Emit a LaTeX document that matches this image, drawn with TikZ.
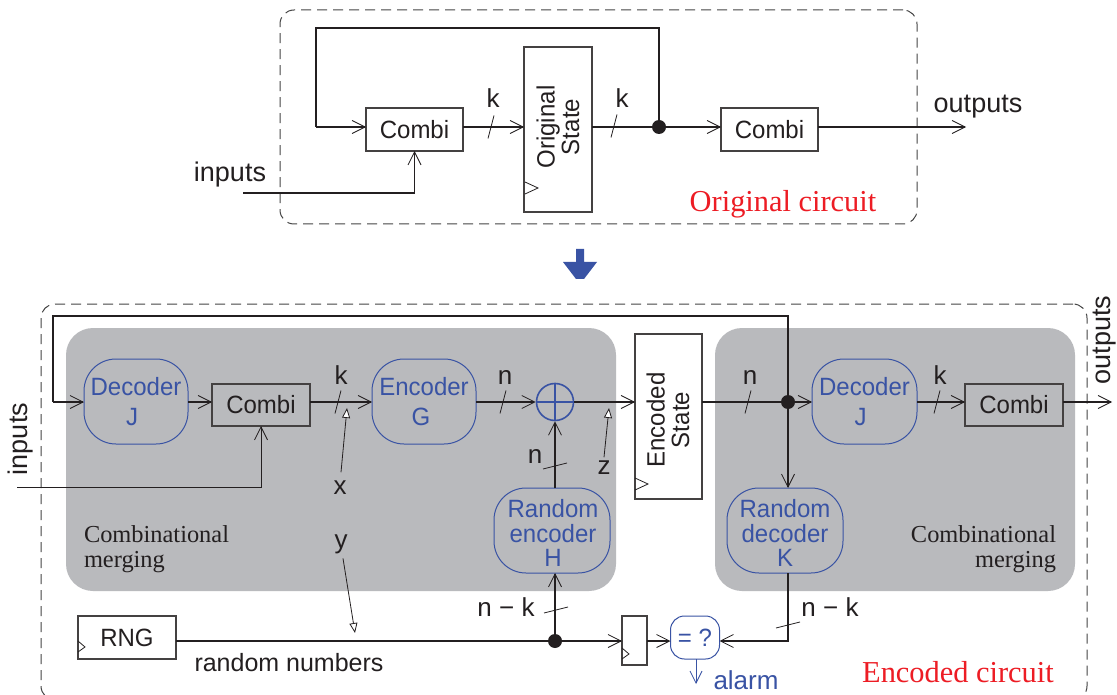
\documentclass[tikz,border=0pt]{standalone}
\usepackage{fontspec}
\setmainfont{Liberation Serif}
\setsansfont{Liberation Sans}
\newfontfamily\boxfont[FakeStretch=0.96]{Liberation Sans}
\usetikzlibrary{arrows.meta,positioning}
\definecolor{ink}{HTML}{231F20}
\definecolor{codeblue}{HTML}{3953A4}
\definecolor{panelgray}{HTML}{B9BABD}
\definecolor{framegray}{HTML}{444444}
\definecolor{titlered}{HTML}{ED1C24}
\tikzstyle{base} = [inner sep=0pt, outer sep=0pt, text=ink, font=\boxfont\fontsize{25}{24.5}\selectfont]
\tikzstyle{frame} = [base, rectangle, draw=framegray, line width=1pt, rounded corners=14pt, dash pattern=on 10pt off 6pt]
\tikzstyle{panel} = [base, rectangle, fill=panelgray, rounded corners=27pt]
\tikzstyle{block} = [base, rectangle, draw=ink!85, line width=1.1pt]
\tikzstyle{code} = [base, rectangle, draw=codeblue, line width=1pt, rounded corners=32pt, text=codeblue, align=center]
\tikzstyle{codetext} = [base, text=codeblue, align=center]
\tikzstyle{lbl} = [base, anchor=base, font=\sffamily\fontsize{26}{26}\selectfont]
\tikzstyle{wide} = [font=\sffamily\fontsize{27}{27}\selectfont]
\tikzstyle{title} = [base, anchor=base, text=titlered, font=\rmfamily\fontsize{30.4}{30}\selectfont]
\tikzstyle{merge} = [base, font=\rmfamily\fontsize{24.4}{24.5}\selectfont]
\tikzstyle{dot} = [circle, fill=ink, inner sep=0pt, minimum size=14pt]
\tikzstyle{wire} = [draw=ink, line width=1.8pt, -{Straight Barb[length=13pt,width=13pt,line width=0.8pt]}]
\tikzstyle{line} = [draw=ink, line width=1.8pt]
\tikzstyle{heavy} = [draw=ink, line width=2.2pt]
\tikzstyle{slash} = [draw=ink, line width=0.8pt]
\tikzstyle{note} = [draw=ink, line width=0.8pt, -{Triangle[open,length=10pt,width=8pt,fill=white]}]
\begin{document}
\begin{tikzpicture}[x=1pt,y=-1pt]
\clip (0,0) rectangle (1117,695);
\fill[white] (0,0) rectangle (1117,695);
% grey merging areas go first, everything else sits on top
\node (PanelL) [panel, minimum width=550pt, minimum height=263pt] at (341,459.5) {};
\node (PanelR) [panel, minimum width=360pt, minimum height=263pt] at (895,459.5) {};
\node (FrameTop) [frame, minimum width=637pt, minimum height=214pt] at (598.5,117) {};
\node (FrameBot) [frame, minimum width=1046pt, minimum height=396pt] at (564,502) {};
% original circuit
\node (CombiA) [block, minimum width=97pt, minimum height=43pt] at (414.5,129.5) {Combi};
\node (StateA) [block, minimum width=68pt, minimum height=165pt] at (558,129.5) {};
\node (StateAText) [base, rotate=90, align=center] at (558,127) {Original\\State};
\node (CombiB) [block, minimum width=97pt, minimum height=43pt] at (769.5,129.5) {Combi};
\coordinate (RowA) at (0,127);
\node (DotA) [dot] at (659,127) {};
\coordinate (OutA) at (966,127);
\coordinate (InA) at (243,193);
\draw[heavy] (DotA) -- (659,28) -- (316,28) -- (316,127);
\draw[wire] (316,127) -- (CombiA.west |- RowA);
\draw[wire] (CombiA.east |- RowA) -- (StateA.west |- RowA);
\draw[line] (StateA.east |- RowA) -- (DotA);
\draw[wire] (DotA) -- (CombiB.west |- RowA);
\draw[wire] (CombiB.east |- RowA) -- (OutA);
\draw[wire] (InA) -| (CombiA.south);
\draw[slash] (StateA.south west) ++(1,-30) -- ++(13,6) -- ++(-13,6);
\node (InputsA) [lbl, wide] at (230,182) {inputs};
\node (OutputsA) [lbl, wide] at (978,113) {outputs};
\node (KA) [lbl] at (493,108) {k};
\node (KB) [lbl] at (622,108) {k};
\node (TitleA) [title] at (783,212) {Original circuit};
% arrow between the two circuits
\fill[codeblue] (576,249) -- (584,249) -- (584,262) -- (597,262) -- (584,279) -- (576,279) -- (563,262) -- (576,262) -- cycle;
% encoded circuit
\node (DecL) [code, minimum width=104pt, minimum height=85pt] at (136,401.5) {Decoder\\[5pt]\hspace*{-8pt}J};
\node (CombiC) [block, minimum width=98pt, minimum height=42pt] at (261,405) {Combi};
\node (EncG) [code, minimum width=104pt, minimum height=85pt] at (424,401.5) {Encoder\\[5pt]\hspace*{-6pt}G};
\node (Xor) [circle, draw=codeblue, line width=1.6pt, minimum size=37pt, inner sep=0pt] at (555,402) {};
\node (StateB) [block, minimum width=67pt, minimum height=165pt] at (668.5,416.5) {};
\node (StateBText) [base, rotate=90, align=center] at (668,420) {Encoded\\State};
\node (DecR) [code, minimum width=105pt, minimum height=85pt] at (864.5,401.5) {Decoder\\[5pt]\hspace*{-8pt}J};
\node (CombiD) [block, minimum width=98pt, minimum height=42pt] at (1014,405) {Combi};
\node (RandH) [code, minimum width=116pt, minimum height=85pt] at (552,530.5) {};
\node (RandHText) [codetext] at (553,533) {Random\\encoder\\H};
\node (RandK) [code, minimum width=116pt, minimum height=85pt] at (785,530.5) {};
\node (RandKText) [codetext] at (785,533) {Random\\decoder\\K};
\node (Rng) [block, minimum width=98pt, minimum height=43pt] at (127,637.5) {RNG};
\node (Reg) [block, minimum width=25pt, minimum height=49pt] at (634.5,640.5) {};
\node (Check) [code, minimum width=49pt, minimum height=43pt, rounded corners=14pt] at (695,637.5) {= ?};
\coordinate (RowB) at (0,402);
\coordinate (RowC) at (0,641);
\node (DotB) [dot] at (788,402) {};
\node (DotC) [dot] at (555,641) {};
\coordinate (OutB) at (1112,402);
\coordinate (InB) at (17,487);
\coordinate (Alarm) at (696,684);
\draw[heavy] (DotB) -- (788,316) -- (53,316) -- (53,402);
\draw[wire] (53,402) -- (DecL.west |- RowB);
\draw[wire] (DecL.east |- RowB) -- (CombiC.west |- RowB);
\draw[wire] (CombiC.east |- RowB) -- (EncG.west |- RowB);
\draw[wire] (EncG.east |- RowB) -- (Xor.west);
\draw[wire] (Xor.east) -- (StateB.west |- RowB);
\draw[line] (StateB.east |- RowB) -- (DotB);
\draw[wire] (DotB) -- (DecR.west |- RowB);
\draw[wire] (DecR.east |- RowB) -- (CombiD.west |- RowB);
\draw[wire] (CombiD.east |- RowB) -- (OutB);
\draw[wire, line width=1pt] (InB) -| (CombiC.south);
\draw[wire] (DotB) -- (RandK.north -| DotB);
\draw[wire] (RandH.north -| Xor) -- (Xor.south);
\draw[wire] (DotC) -- (RandH.south -| DotC);
\draw[line] (Rng.east |- RowC) -- (DotC);
\draw[wire] (DotC) -- (Reg.west |- RowC);
\draw[wire] (Reg.east |- RowC) -- (Check.west |- RowC);
\draw[wire] (RandK.south -| DotB) |- (Check.east |- RowC);
\draw[draw=codeblue, line width=1pt, -{Straight Barb[length=12pt,width=12pt,line width=0.8pt]}] (Check.south -| Alarm) -- (Alarm);
% xor cross
\draw[codeblue, line width=1.4pt] (Xor.north) -- (Xor.south) (Xor.west) -- (Xor.east);
% clock marks
\draw[slash] (StateB.south west) ++(0,-21) -- ++(13,6) -- ++(-13,6);
\draw[slash] (Rng.west |- RowC) -- (85,647) -- (78,652);
\draw[slash] (622,648) -- (629,654) -- (622,659);
% bus ticks
\foreach \px/\py in {491/127,614/126,338/402,503/402,748/402,937/402}
	\draw[slash] (\px-3,\py+11.5) -- (\px+3,\py-11.5);
\foreach \px/\py in {555/466,556/610,788/625}
	\draw[slash] (\px-12,\py+3) -- (\px+12,\py-3);
% labels
\node (InputsB) [lbl, wide, rotate=90, anchor=center] at (21,439) {inputs};
\node (OutputsB) [lbl, wide, rotate=90, anchor=center] at (1105,340) {outputs};
\node (KC) [lbl] at (341,384) {k};
\node (NA) [lbl] at (505,384) {n};
\node (NB) [lbl] at (535,463) {n};
\node (NC) [lbl] at (750,384) {n};
\node (KD) [lbl] at (940,384) {k};
\node (NKA) [lbl] at (506,616) {n − k};
\node (NKB) [lbl] at (830,616) {n − k};
\node (LabelX) [lbl] at (340,494) {x};
\node (LabelY) [lbl] at (341,548) {y};
\node (LabelZ) [lbl] at (604,474) {z};
\node (RandNum) [lbl, font=\sffamily\fontsize{25}{25}\selectfont] at (289,671) {random numbers};
\node (AlarmText) [lbl, text=codeblue] at (746,689) {alarm};
\node (MergeL) [merge, align=left, anchor=north west] at (84,526) {Combinational\\merging};
\node (MergeR) [merge, align=right, anchor=north east] at (1056,526) {Combinational\\merging};
\node (TitleB) [title] at (958,682) {Encoded circuit};
% the small pointers to x, y and z
\draw[note] (LabelX.north -| 341,0) ++(0,-8) -- (347,408);
\draw[note] (LabelY.south -| 343,0) ++(0,5) -- (355,633);
\draw[note] (LabelZ.north -| 604,0) ++(0,-3) -- (609,408);
\end{tikzpicture}
\end{document}
